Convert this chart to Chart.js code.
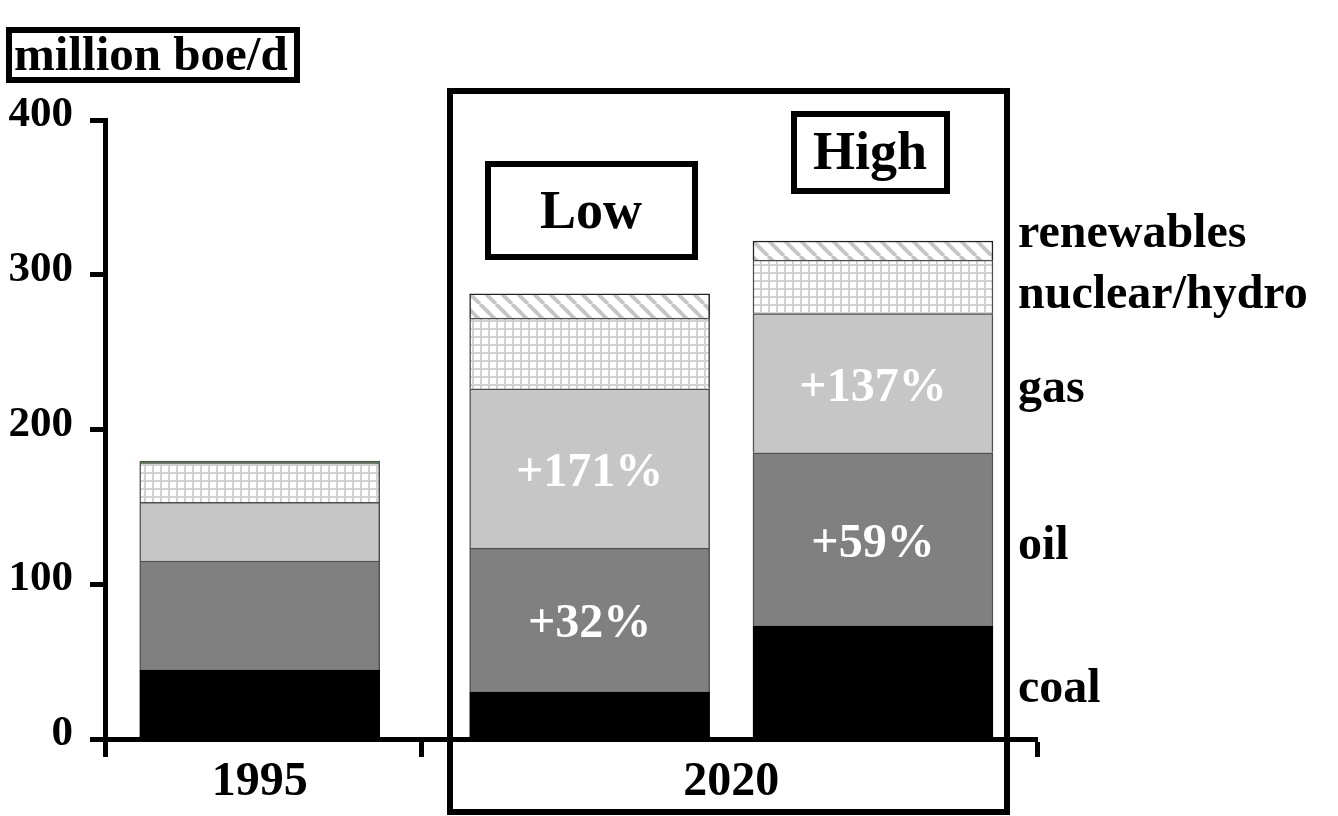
<!DOCTYPE html>
<html>
<head>
<meta charset="utf-8">
<script src="https://cdn.jsdelivr.net/npm/chart.js@4.4.1/dist/chart.umd.min.js"></script>
<style>
  html, body { margin: 0; padding: 0; background: #fff; }
  canvas { display: block; }
</style>
</head>
<body>
<canvas id="energy" width="1338" height="816"></canvas>
<script>
// Primary energy demand, million barrels of oil equivalent per day
const scenarios = ['1995', 'Low', 'High'];
const coal = [44.6, 30.4, 73.0];
const oil = [70.4, 92.9, 111.9];
const gas = [38.0, 103.0, 90.0];
const nuclearHydro = [25.7, 45.7, 34.6];
const renewables = [0.9, 15.6, 12.3];

// growth of 2020 over 1995, written inside the oil and gas segments
const oilGrowth = ['', '+32%', '+59%'];
const gasGrowth = ['', '+171%', '+137%'];

const seriesNames = ['coal', 'oil', 'gas', 'nuclear/hydro', 'renewables'];
const yTickValues = [0, 100, 200, 300, 400];
const periodLabels = ['1995', '2020'];
const unitLabel = 'million boe/d';

// ---- layout (x in axis units 0..100, frames in pixels) ----
const barX = [16.6, 52.0, 82.4];
const periodLabelX = [16.6, 67.2];
const periodBoundsX = [0, 34.0, 100];
const SERIF = '"Liberation Serif", "Times New Roman", serif';
const legendY = { coal: 702, oil: 559, gas: 402, 'nuclear/hydro': 308, renewables: 247 };

const ctx = document.getElementById('energy').getContext('2d');

function gridPattern() {
  const c = document.createElement('canvas');
  c.width = 8; c.height = 8;
  const g = c.getContext('2d');
  g.fillStyle = '#ffffff'; g.fillRect(0, 0, 8, 8);
  g.fillStyle = '#d2d2d2';
  g.fillRect(0, 0, 8, 2);
  g.fillRect(0, 0, 2, 8);
  return ctx.createPattern(c, 'repeat');
}
function stripePattern() {
  const s = 16;
  const c = document.createElement('canvas');
  c.width = s; c.height = s;
  const g = c.getContext('2d');
  g.fillStyle = '#ffffff'; g.fillRect(0, 0, s, s);
  g.strokeStyle = '#c6c6c6'; g.lineWidth = 4;
  for (const k of [-s, 0, s]) {
    g.beginPath(); g.moveTo(k, 0); g.lineTo(k + s, s); g.stroke();
  }
  return ctx.createPattern(c, 'repeat');
}
const hatchGrid = gridPattern();
const hatchStripe = stripePattern();

const pts = arr => arr.map((v, i) => ({ x: barX[i], y: v }));

const datasets = [
  { label: 'coal', data: pts(coal), backgroundColor: '#000000', borderColor: '#000000', borderWidth: 1 },
  { label: 'oil', data: pts(oil), backgroundColor: '#808080', borderColor: '#505050', borderWidth: 1.5 },
  { label: 'gas', data: pts(gas), backgroundColor: '#c6c6c6', borderColor: '#505050', borderWidth: 1.5 },
  { label: 'nuclear/hydro', data: pts(nuclearHydro), backgroundColor: hatchGrid, borderColor: '#505050', borderWidth: 1.5 },
  { label: 'renewables', data: pts(renewables),
    backgroundColor: [ '#2e7d32', hatchStripe, hatchStripe ],
    borderColor: [ '#2a6a2a', '#222222', '#222222' ], borderWidth: 1.5 }
].map(d => Object.assign(d, { barThickness: 240, borderSkipped: 'start' }));

const overlay = {
  id: 'overlay',
  afterDatasetsDraw(chart) {
    const c = chart.ctx;
    c.save();
    // growth labels inside the 2020 bars
    c.fillStyle = '#ffffff';
    c.font = 'bold 48px ' + SERIF;
    c.textAlign = 'center';
    c.textBaseline = 'middle';
    const oilMeta = chart.getDatasetMeta(1), gasMeta = chart.getDatasetMeta(2);
    scenarios.forEach((s, i) => {
      if (oilGrowth[i]) {
        const b = oilMeta.data[i];
        c.fillText(oilGrowth[i], b.x, (b.y + b.base) / 2 + 5);
      }
      if (gasGrowth[i]) {
        const b = gasMeta.data[i];
        c.fillText(gasGrowth[i], b.x, (b.y + b.base) / 2 + 5);
      }
    });
    // series names on the right
    c.fillStyle = '#000000';
    c.textAlign = 'left';
    c.textBaseline = 'alphabetic';
    c.font = 'bold 48px ' + SERIF;
    seriesNames.forEach(n => c.fillText(n, 1018, legendY[n]));
    c.restore();
  },
  afterDraw(chart) {
    const c = chart.ctx;
    c.save();
    c.strokeStyle = '#000000';
    c.lineWidth = 6;
    // unit caption
    c.strokeRect(9, 30, 288, 50);
    c.fillStyle = '#000000';
    c.font = 'bold 49px ' + SERIF;
    c.textAlign = 'left';
    c.textBaseline = 'alphabetic';
    c.fillText(unitLabel, 14, 70);
    // 2020 frame
    c.strokeRect(450, 91, 557, 721);
    // scenario captions
    c.font = 'bold 54px ' + SERIF;
    c.textAlign = 'center';
    c.textBaseline = 'middle';
    c.strokeRect(488, 164, 207, 93);
    c.fillText(scenarios[1], 591, 214);
    c.strokeRect(794, 114, 153, 77);
    c.fillText(scenarios[2], 870, 155);
    c.restore();
  }
};

new Chart(ctx, {
  type: 'bar',
  data: { datasets },
  plugins: [overlay],
  options: {
    responsive: false,
    animation: false,
    layout: { padding: { top: 120, right: 301, left: 0, bottom: 0 } },
    plugins: { legend: { display: false }, tooltip: { enabled: false } },
    scales: {
      x: {
        type: 'linear',
        stacked: true,
        offset: false,
        min: 0,
        max: 100,
        afterBuildTicks: s => {
          s.ticks = periodBoundsX.concat(periodLabelX).sort((a, b) => a - b).map(v => ({ value: v }));
        },
        afterFit: s => { s.height = 77; },
        ticks: {
          autoSkip: false,
          maxRotation: 0,
          padding: -3,
          color: '#000000',
          font: { family: SERIF, size: 48, weight: 'bold' },
          callback: v => {
            const k = periodLabelX.indexOf(v);
            return k >= 0 ? periodLabels[k] : '';
          }
        },
        grid: {
          offset: false,
          drawOnChartArea: false,
          tickLength: 18,
          tickWidth: 5,
          tickColor: c => (c.tick && periodLabelX.includes(c.tick.value)) ? 'rgba(0,0,0,0)' : '#000000'
        },
        border: { display: true, width: 5, color: '#000000' }
      },
      y: {
        stacked: true,
        min: 0,
        max: 400,
        afterBuildTicks: s => { s.ticks = yTickValues.map(v => ({ value: v })); },
        afterFit: s => { s.width = 105; },
        ticks: {
          padding: 17,
          labelOffset: -5,
          color: '#000000',
          font: { family: SERIF, size: 43, weight: 'bold' }
        },
        grid: { drawOnChartArea: false, tickLength: 15, tickWidth: 5, tickColor: '#000000' },
        border: { display: true, width: 5, color: '#000000' }
      }
    }
  }
});
</script>
</body>
</html>
